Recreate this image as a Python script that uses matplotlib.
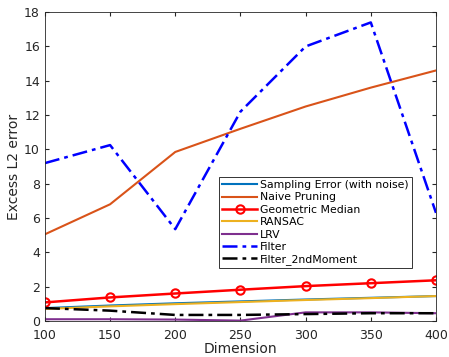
import matplotlib.pyplot as plt

dims = [100, 150, 200, 250, 300, 350, 400]
sampling = [0.75, 0.9, 1.03, 1.14, 1.25, 1.35, 1.45]
naive = [5.05, 6.8, 9.85, 11.2, 12.5, 13.6, 14.6]
geo_median = [1.08, 1.37, 1.6, 1.82, 2.03, 2.2, 2.37]
ransac = [0.7, 0.85, 0.98, 1.1, 1.22, 1.33, 1.45]
lrv = [0.1, 0.1, 0.08, 0.02, 0.5, 0.5, 0.45]
filt = [9.2, 10.25, 5.35, 12.2, 16.0, 17.4, 6.3]
filt_2nd = [0.75, 0.6, 0.35, 0.35, 0.4, 0.45, 0.45]

fig = plt.figure(figsize=(4.49, 3.57), dpi=100)
ax = fig.add_axes([0.1, 0.101, 0.871, 0.865])

ax.plot(dims, sampling, color=(0, 0.447, 0.741), lw=1.5, label='Sampling Error (with noise)')
ax.plot(dims, naive, color=(0.85, 0.325, 0.098), lw=1.5, label='Naive Pruning')
ax.plot(dims, geo_median, color='red', lw=1.8, marker='o', ms=6, mfc='none', mew=1.5, label='Geometric Median')
ax.plot(dims, ransac, color=(0.929, 0.694, 0.125), lw=1.5, label='RANSAC')
ax.plot(dims, lrv, color=(0.494, 0.184, 0.556), lw=1.5, label='LRV')
ax.plot(dims, filt, color='blue', lw=1.8, ls=(0, (6, 2, 1.5, 2)), label='Filter')
ax.plot(dims, filt_2nd, color='black', lw=1.8, ls=(0, (6, 2, 1.5, 2)), label='Filter_2ndMoment')

ax.set_xlim(100, 400)
ax.set_ylim(0, 18)
ax.set_xticks(dims)
ax.set_yticks(range(0, 19, 2))
ax.tick_params(direction='in', top=True, right=True, labelsize=9, colors='#262626', length=3)
ax.tick_params(axis='x', pad=6)
for s in ax.spines.values():
    s.set_color('#262626')
    s.set_linewidth(0.6)
ax.set_xlabel('Dimension', fontsize=10, color='#262626', labelpad=0)
ax.set_ylabel('Excess L2 error', fontsize=10, color='#262626', labelpad=2)

leg = ax.legend(loc='lower left', bbox_to_anchor=(0.445, 0.17), fontsize=7.8, frameon=True,
                fancybox=False, edgecolor='black', handlelength=3.2, handletextpad=0.3,
                labelspacing=0.22, borderpad=0.3, borderaxespad=0)
leg.get_frame().set_linewidth(0.7)

fig.savefig('out.png', dpi=100)
